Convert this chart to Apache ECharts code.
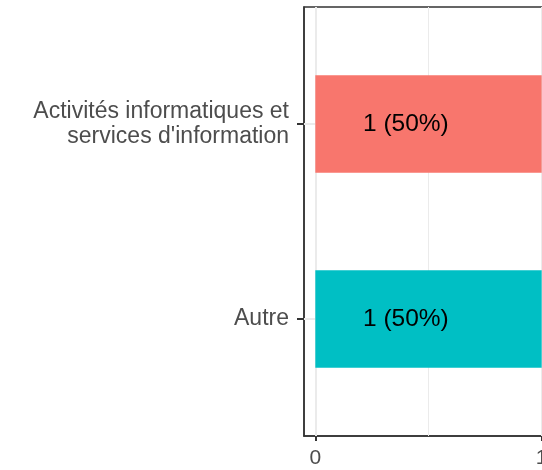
<!DOCTYPE html>
<html>
<head>
<meta charset="utf-8">
<script src="https://cdn.jsdelivr.net/npm/echarts@6/dist/echarts.min.js"></script>
<style>
  html, body { margin: 0; padding: 0; background: #fff; }
  #chart { width: 542px; height: 470px; }
</style>
</head>
<body>
<div id="chart"></div>
<script>
// data
const categories = ["Activités informatiques et\nservices d'information", 'Autre'];
const counts = [1, 1];
const percents = [50, 50];
const barColors = ['#F8766D', '#00BFC4'];
const xTicks = [0, 1];
const xGridMajor = [0, 1];
const xGridMinor = [0.5];
const yTicks = categories.map((c, i) => i + 1);

const chart = echarts.init(document.getElementById('chart'));

function renderBar(params, api) {
  const x = api.value(0);
  const y = api.value(1);
  const start = api.coord([0, y]);
  const end = api.coord([x, y]);
  const h = api.size([0, 0.5])[1];
  const i = params.dataIndex;
  return {
    type: 'rect',
    shape: { x: start[0], y: start[1] - h / 2, width: end[0] - start[0], height: h },
    style: { fill: barColors[i] },
    textContent: {
      style: {
        text: counts[i] + ' (' + percents[i] + '%)',
        fill: '#000000',
        fontSize: 24.5,
        fontFamily: 'Liberation Sans, Arial, sans-serif',
        align: 'center',
        verticalAlign: 'middle'
      }
    },
    textConfig: { position: ['40%', '50%'] }
  };
}

const option = {
  animation: false,
  textStyle: { fontFamily: 'Liberation Sans, Arial, sans-serif' },
  grid: {
    left: 304, top: 7, width: 249, height: 429,
    show: true, borderColor: '#333333', borderWidth: 1.5,
    outerBoundsMode: 'none',
    containLabel: false
  },
  xAxis: {
    type: 'value',
    min: -0.05, max: 1.05,
    axisLine: { show: true, onZero: false, lineStyle: { color: '#333333', width: 1.5 } },
    axisTick: { show: true, customValues: xTicks, length: 5, lineStyle: { color: '#333333', width: 2 } },
    axisLabel: { customValues: xTicks, color: '#4D4D4D', fontSize: 21, margin: 12 },
    splitLine: { show: false }
  },
  yAxis: {
    type: 'value',
    min: 0.4, max: 2.6,
    inverse: true,
    axisLine: { show: true, onZero: false, lineStyle: { color: '#333333', width: 1.5 } },
    axisTick: { show: true, customValues: yTicks, length: 7, lineStyle: { color: '#333333', width: 2 } },
    axisLabel: {
      customValues: yTicks,
      color: '#4D4D4D', fontSize: 23, lineHeight: 25, align: 'right', margin: 15,
      formatter: v => categories[v - 1]
    },
    splitLine: { show: false }
  },
  series: [{
    type: 'custom',
    renderItem: renderBar,
    data: counts.map((v, i) => [v, i + 1]),
    z: 2,
    markLine: {
      silent: true,
      symbol: 'none',
      label: { show: false },
      z: 1,
      data: xGridMajor.map(v => ({ xAxis: v, lineStyle: { color: '#EBEBEB', width: 2, type: 'solid' } }))
        .concat(xGridMinor.map(v => ({ xAxis: v, lineStyle: { color: '#EBEBEB', width: 1, type: 'solid' } })))
        .concat(yTicks.map(v => ({ yAxis: v, lineStyle: { color: '#EBEBEB', width: 2, type: 'solid' } })))
    }
  }]
};

chart.setOption(option);
</script>
</body>
</html>
